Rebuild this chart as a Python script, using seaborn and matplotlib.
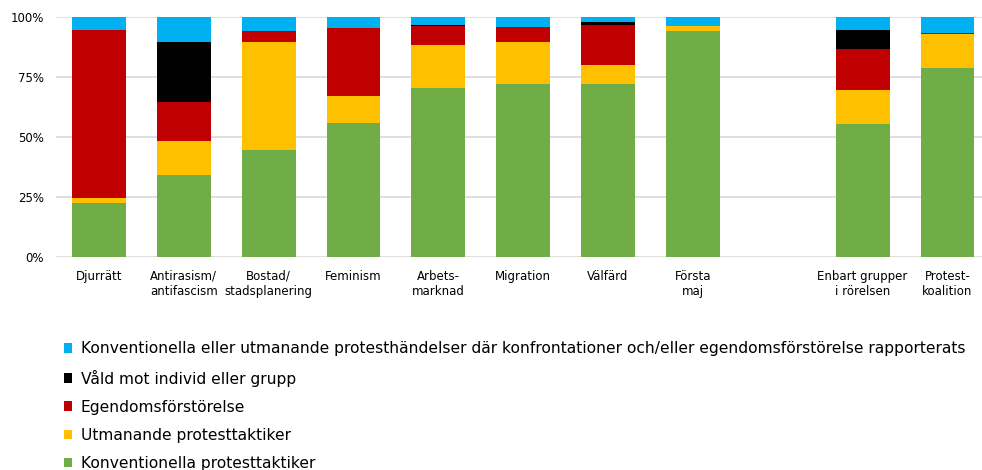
import pandas as pd
import matplotlib.pyplot as plt
import seaborn as sns

# categories (the blank one is the gap before the last two bars)
categories = ["Djurrätt", "Antirasism/\nantifascism", "Bostad/\nstadsplanering",
              "Feminism", "Arbets-\nmarknad", "Migration", "Välfärd",
              "Första\nmaj", " ", "Enbart grupper\ni rörelsen", "Protest-\nkoalition"]

# shares in percent
konventionella = [22.8, 34.4, 44.6, 56.1, 70.4, 72.4, 72.4, 94.3, 0, 55.7, 78.8]
utmanande = [1.9, 14.1, 45.3, 11.1, 18.1, 17.5, 7.7, 2.1, 0, 14.2, 14.4]
egendom = [70.2, 16.2, 4.4, 28.5, 7.8, 6.2, 16.8, 0.0, 0, 16.8, 0.4]
vald = [0.0, 25.2, 0.0, 0.0, 0.5, 0.0, 1.2, 0.0, 0, 8.2, 0.0]
konfrontation = [5.1, 10.1, 5.7, 4.3, 3.2, 3.9, 1.9, 3.6, 0, 5.1, 6.4]

series = ["Konventionella protesttaktiker", "Utmanande protesttaktiker",
          "Egendomsförstörelse", "Våld mot individ eller grupp",
          "Konventionella eller utmanande protesthändelser där konfrontationer "
          "och/eller egendomsförstörelse rapporterats"]
colors = ["#70AD47", "#FFC000", "#C00000", "#000000", "#00B0F0"]


def make_chart():
    sns.set_style("white")
    plt.rcParams['font.family'] = ['DejaVu Sans']

    df = pd.DataFrame({"kategori": categories,
                       series[0]: konventionella,
                       series[1]: utmanande,
                       series[2]: egendom,
                       series[3]: vald,
                       series[4]: konfrontation})
    df = df.set_index("kategori")
    # cumulative share, as fraction of 1
    cum = df.cumsum(axis=1).div(100)

    fig = plt.figure(figsize=(9.82, 4.70), dpi=100)
    ax = fig.add_axes([0.0575, 0.4526, 0.9506, 0.5102])

    # draw from the top layer down so each stack is visible
    for name, color in reversed(list(zip(series, colors))):
        sns.barplot(x=cum.index, y=cum[name].values, order=categories,
                    color=color, width=0.635, linewidth=0, saturation=1,
                    ax=ax, label=name)

    ax.set_ylim(0, 1)
    ax.set_xlim(-0.5, len(categories) - 0.5)
    ax.set_yticks([0, 0.25, 0.5, 0.75, 1.0])
    ax.set_yticklabels(["0%", "25%", "50%", "75%", "100%"])
    ax.yaxis.grid(True, color="#d9d9d9", linewidth=1.2)
    ax.set_axisbelow(True)
    ax.tick_params(axis="y", length=0, pad=9, labelsize=8.5, colors="#000000")
    ax.tick_params(axis="x", length=0, pad=9, labelsize=8.5, colors="#000000")
    ax.set_xlabel("")
    ax.set_ylabel("")
    sns.despine(ax=ax, left=True, bottom=True)

    handles, labels = ax.get_legend_handles_labels()
    if ax.get_legend():
        ax.get_legend().remove()
    fig.legend(handles, labels, loc="upper left", bbox_to_anchor=(0.057, 0.29),
               frameon=False, fontsize=11.2, handlelength=0.55, handleheight=0.55,
               handletextpad=0.55, labelspacing=0.84, borderpad=0,
               labelcolor="#000000")

    plt.savefig("out.png", dpi=100)


if __name__ == '__main__':
    make_chart()
